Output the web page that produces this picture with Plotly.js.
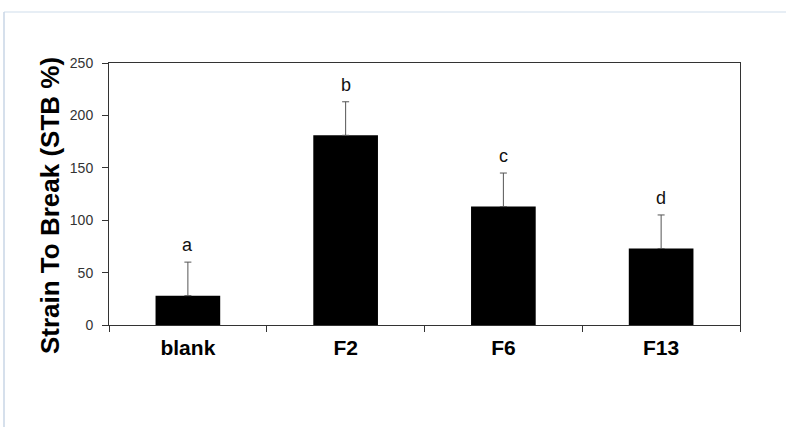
<!DOCTYPE html>
<html>
<head>
<meta charset="utf-8">
<script src="https://cdn.plot.ly/plotly-3.0.1.min.js"></script>
<style>
  html, body { margin: 0; padding: 0; background: #ffffff; }
  #chart { width: 786px; height: 427px; }
</style>
</head>
<body>
<div id="chart"></div>
<script>
const categories = ['blank', 'F2', 'F6', 'F13'];
const means = [28, 181, 113, 73];
const errors = [32, 32, 32, 32];
const letters = ['a', 'b', 'c', 'd'];
const yTicks = [0, 50, 100, 150, 200, 250];
const yTitle = 'Strain To Break (STB %)';

const trace = {
  type: 'bar',
  x: categories,
  y: means,
  marker: { color: '#000000', line: { width: 0 } },
  error_y: {
    type: 'data',
    symmetric: false,
    array: errors,
    arrayminus: categories.map(() => 0),
    color: '#555555',
    thickness: 1,
    width: 3.5
  },
  hoverinfo: 'skip'
};

const annotations = categories.map((c, i) => ({
  x: c,
  y: means[i] + errors[i],
  xref: 'x',
  yref: 'y',
  text: letters[i],
  showarrow: false,
  yanchor: 'bottom',
  yshift: 5,
  font: { family: 'Liberation Sans, Arial, sans-serif', size: 18, color: '#111111' }
}));

annotations.push({
  xref: 'paper', yref: 'paper',
  x: -0.0935, y: 0.454,
  xanchor: 'center', yanchor: 'middle',
  textangle: -90,
  showarrow: false,
  text: yTitle,
  font: { family: 'Liberation Sans, Arial, sans-serif', size: 26, color: '#000000', weight: 'bold' }
});

const layout = {
  width: 786,
  height: 427,
  margin: { l: 109, r: 46, t: 63, b: 102 },
  paper_bgcolor: '#ffffff',
  plot_bgcolor: '#ffffff',
  showlegend: false,
  bargap: 0.59,
  xaxis: {
    type: 'category',
    showline: true,
    mirror: true,
    linecolor: '#333333',
    linewidth: 1,
    ticks: 'outside',
    tickson: 'boundaries',
    ticklen: 6,
    tickcolor: '#333333',
    ticklabelstandoff: 4,
    tickfont: { family: 'Liberation Sans, Arial, sans-serif', size: 21, color: '#000000', weight: 'bold' },
    showgrid: false,
    zeroline: false
  },
  yaxis: {
    range: [0, 250],
    tickvals: yTicks,
    ticktext: yTicks.map(String),
    showline: true,
    mirror: true,
    linecolor: '#333333',
    linewidth: 1,
    ticks: 'outside',
    ticklen: 6,
    tickcolor: '#333333',
    ticklabelstandoff: 6,
    tickfont: { family: 'Liberation Sans, Arial, sans-serif', size: 14, color: '#333333' },
    showgrid: false,
    zeroline: false
  },
  annotations: annotations,
  shapes: [
    { type: 'line', xref: 'paper', yref: 'paper', x0: -0.1664, x1: 1.08, y0: 1.1947, y1: 1.1947,
      line: { color: '#dfe8f2', width: 1.5 } },
    { type: 'line', xref: 'paper', yref: 'paper', x0: -0.1664, x1: -0.1664, y0: 1.1947, y1: -0.4,
      line: { color: '#c9d6e6', width: 1.5 } }
  ]
};

Plotly.newPlot('chart', [trace], layout, { displayModeBar: false, staticPlot: true });
</script>
</body>
</html>
